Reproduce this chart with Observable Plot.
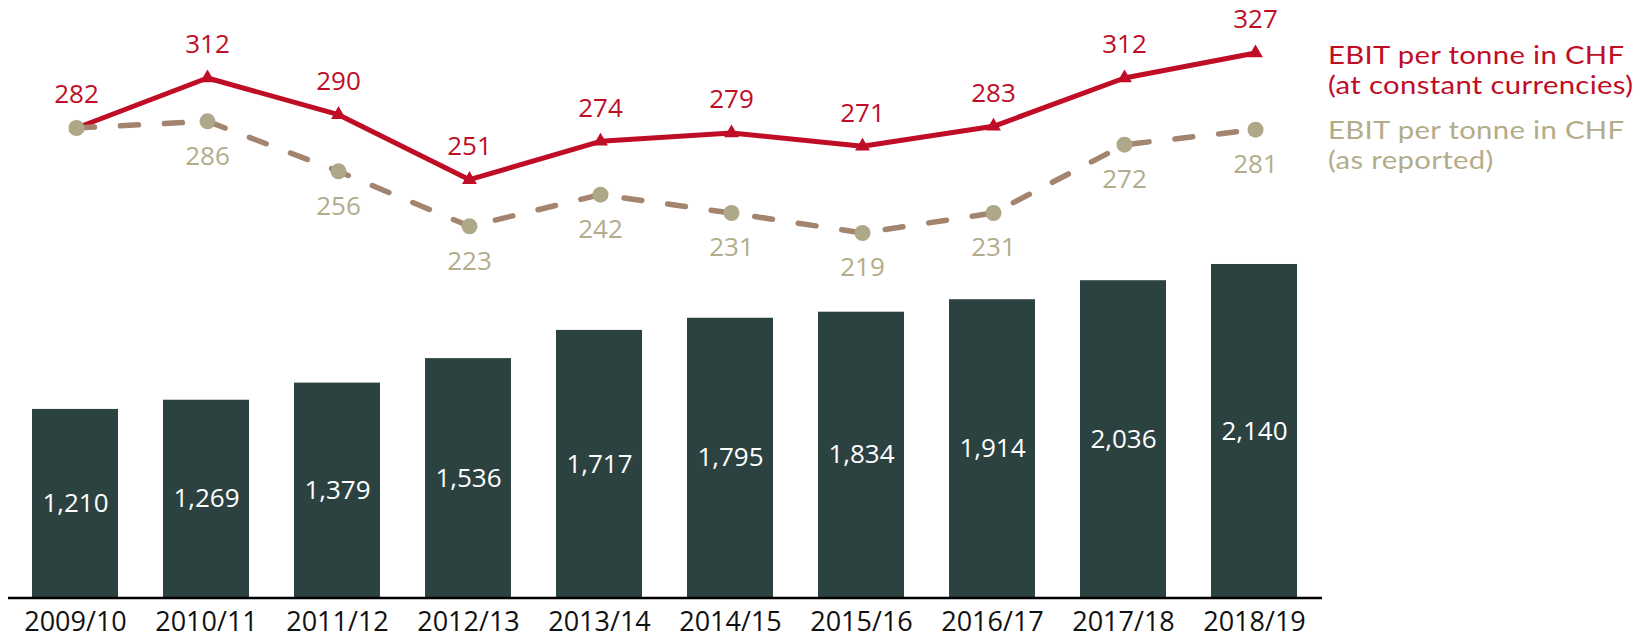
<!DOCTYPE html>
<html>
<head>
<meta charset="utf-8">
<script src="https://cdn.jsdelivr.net/npm/d3@7"></script>
<script src="https://cdn.jsdelivr.net/npm/@observablehq/plot@0.6"></script>
<style>
  html, body { margin: 0; padding: 0; background: #fff; }
  #chart { position: relative; width: 1649px; height: 639px; font-family: "Open Sans", sans-serif; }
  #chart svg { position: absolute; left: 0; top: 0; background: transparent; }
  .legend { position: absolute; left: 1328px; font-family: Lato, "Open Sans", sans-serif; font-size: 25px; line-height: 30px; height: 30px; letter-spacing: 0.3px; white-space: nowrap; transform: scaleX(1.17); transform-origin: 0 50%; }
</style>
</head>
<body>
<div id="chart">
  <div class="legend" style="top:39px; color:#c00d26;">EBIT per tonne in CHF</div>
  <div class="legend" style="top:69px; color:#c00d26;">(at constant currencies)</div>
  <div class="legend" style="top:114px; color:#b3ac8a;">EBIT per tonne in CHF</div>
  <div class="legend" style="top:144px; color:#b3ac8a;">(as reported)</div>
</div>
<script>
const years = ["2009/10","2010/11","2011/12","2012/13","2013/14","2014/15","2015/16","2016/17","2017/18","2018/19"];
const volumes = [1210, 1269, 1379, 1536, 1717, 1795, 1834, 1914, 2036, 2140];
const ebitConstant = [282, 312, 290, 251, 274, 279, 271, 283, 312, 327];
const ebitReported = [282, 286, 256, 223, 242, 231, 219, 231, 272, 281];
const showReportedLabel = [false, true, true, true, true, true, true, true, true, true];

const bars = years.map((y, i) => ({year: y, volume: volumes[i]}));
const lineData = years.map((y, i) => ({year: y, constant: ebitConstant[i], reported: ebitReported[i], showLabel: showReportedLabel[i]}));

const W = 1649, H = 639;
const common = {
  width: W, height: H,
  marginLeft: 8, marginRight: 327, marginTop: 0, marginBottom: 41.5,
  style: {fontFamily: '"Open Sans", sans-serif', background: "transparent"}
};
const xScale = {domain: years, paddingInner: 0.34, paddingOuter: 0.17};
const fmt = d3.format(",");

const barPlot = Plot.plot({
  ...common,
  x: {...xScale},
  y: {domain: [0, 3834], axis: null},
  marks: [
    Plot.barY(bars, {x: "year", y: "volume", fill: "#2c4240"}),
    Plot.ruleY([0], {stroke: "#000", strokeWidth: 2.5}),
    Plot.text(bars, {x: "year", y: d => d.volume / 2, text: d => fmt(d.volume), fill: "#fff", fontSize: 26}),
    Plot.axisX({tickSize: 0, tickPadding: 14, fontSize: 27, color: "#111", label: null})
  ]
});

const linePlot = Plot.plot({
  ...common,
  x: {...xScale, axis: null},
  y: {domain: [0, 358.5], axis: null},
  marks: [
    Plot.lineY(lineData, {x: "year", y: "constant", stroke: "#c00d26", strokeWidth: 5}),
    Plot.dot(lineData, {x: "year", y: "constant", symbol: "triangle", r: 5.5, fill: "#c00d26"}),
    Plot.lineY(lineData, {x: "year", y: "reported", stroke: "#a2846f", strokeWidth: 5.5, strokeDasharray: "18,26", strokeLinecap: "round"}),
    Plot.dot(lineData, {x: "year", y: "reported", r: 8, fill: "#aea788"}),
    Plot.text(lineData, {x: "year", y: "constant", text: d => String(d.constant), dy: -33, fill: "#c00d26", fontSize: 26}),
    Plot.text(lineData.filter(d => d.showLabel), {x: "year", y: "reported", text: d => String(d.reported), dy: 35, fill: "#b3ac8a", fontSize: 26})
  ]
});

const chart = document.getElementById("chart");
chart.prepend(linePlot);
chart.prepend(barPlot);
</script>
</body>
</html>
